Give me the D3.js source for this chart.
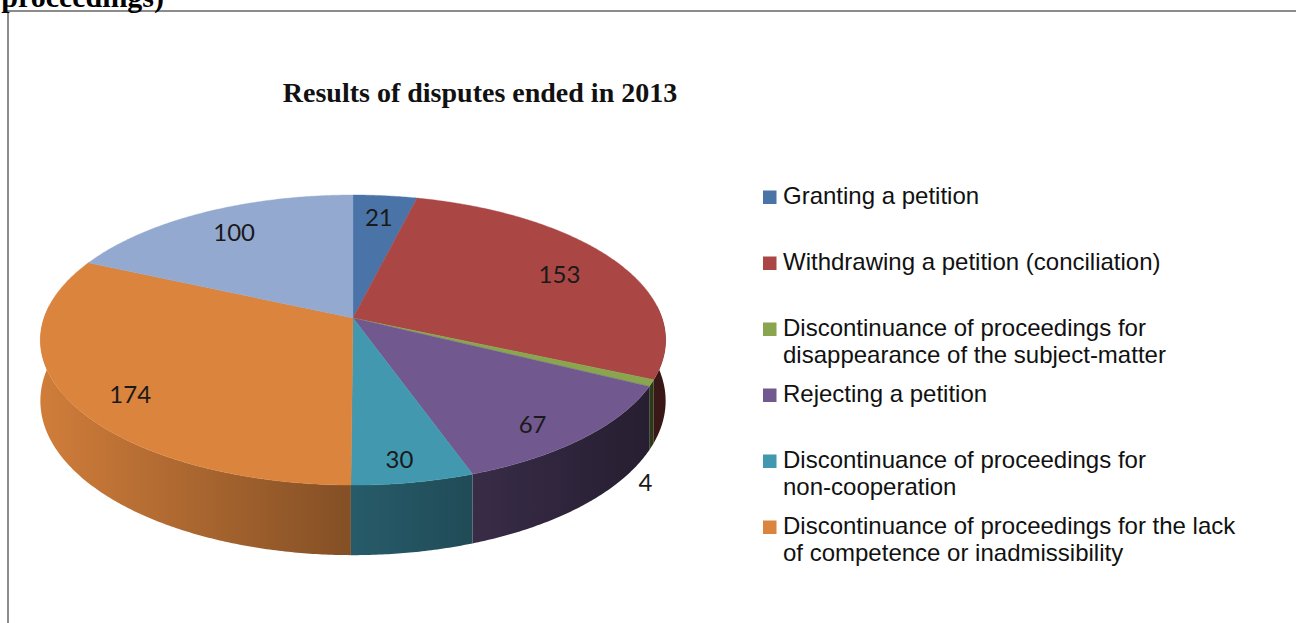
<!DOCTYPE html>
<html>
<head>
<meta charset="utf-8">
<script src="https://cdn.jsdelivr.net/npm/d3@7"></script>
<style>
  html, body { margin: 0; padding: 0; background: #fff; }
  svg { display: block; }
</style>
</head>
<body>
<svg id="chart" width="1296" height="623"></svg>
<script>
// ---- data ----
const categories = [
  "Granting a petition",
  "Withdrawing a petition (conciliation)",
  "Discontinuance of proceedings for disappearance of the subject-matter",
  "Rejecting a petition",
  "Discontinuance of proceedings for non-cooperation",
  "Discontinuance of proceedings for the lack of competence or inadmissibility",
  "Other"
];
const values = [21, 153, 4, 67, 30, 174, 100];
const colors = ["#4a73a8", "#aa4643", "#89a54e", "#71588f", "#4198af", "#db843d", "#93a9cf"];
const legendLines = [
  ["Granting a petition"],
  ["Withdrawing a petition (conciliation)"],
  ["Discontinuance of proceedings for", "disappearance of the subject-matter"],
  ["Rejecting a petition"],
  ["Discontinuance of proceedings for", "non-cooperation"],
  ["Discontinuance of proceedings for the lack", "of competence or inadmissibility"]
];
const chartTitle = "Results of disputes ended in 2013";
const headingFragment = "proceedings)";

// ---- layout ----
const svg = d3.select("#chart");
const defs = svg.append("defs");
const cx = 353, cy = 318;      // pie centre on screen
const S = 309, T = 141.7;      // horizontal / vertical radius scale
const P = 0.152;               // perspective strength
const H = 59.4;                // thickness

function proj(a, r, z) {
  const u = r * Math.sin(a), v = -r * Math.cos(a);
  const d = 1 - P * v;
  return [cx + S * u / d, cy + (T * v + z * H) / d];
}

// frame + clipped heading
svg.append("rect").attr("x", 8).attr("y", 11).attr("width", 1400).attr("height", 800)
  .attr("fill", "none").attr("stroke", "#8c8c8c").attr("stroke-width", 2);
svg.append("text").attr("x", 164).attr("y", 7).attr("text-anchor", "end")
  .attr("font-family", "'Liberation Serif','Times New Roman',serif").attr("font-weight", "bold")
  .attr("font-size", 30).attr("fill", "#000").text(headingFragment);

svg.append("text").attr("x", 480).attr("y", 102).attr("text-anchor", "middle")
  .attr("font-family", "'Liberation Serif','Times New Roman',serif").attr("font-weight", "bold")
  .attr("font-size", 28).attr("fill", "#111").text(chartTitle);

const pie = d3.pie().sort(null).startAngle(0).endAngle(2 * Math.PI);
const arcs = pie(values);
const total = d3.sum(values);

// sides: one path per slice, horizontal lighting gradient
const visLo = 85 * Math.PI / 180, visHi = 275 * Math.PI / 180;
const xL = cx - S * 1.012, xR = cx + S * 1.012;
const sides = [];
arcs.forEach((d, i) => {
  const a0 = Math.max(d.startAngle, visLo), a1 = Math.min(d.endAngle, visHi);
  if (a1 <= a0) return;
  const c = d3.rgb(colors[i]);
  const shade = f => d3.rgb(c.r * f, c.g * f, c.b * f).formatHex();
  const gid = "side" + i;
  const g = defs.append("linearGradient").attr("id", gid)
    .attr("gradientUnits", "userSpaceOnUse")
    .attr("x1", xL).attr("y1", 0).attr("x2", xR).attr("y2", 0);
  g.append("stop").attr("offset", 0).attr("stop-color", shade(0.95));
  g.append("stop").attr("offset", 0.5).attr("stop-color", shade(0.6));
  g.append("stop").attr("offset", 1).attr("stop-color", shade(0.33));
  const n = Math.max(2, Math.ceil((a1 - a0) / (Math.PI / 360)));
  const top = [], bot = [];
  for (let k = 0; k <= n; k++) {
    const a = a0 + (a1 - a0) * k / n;
    top.push(proj(a, 1, 0));
    bot.push(proj(a, 1, 1));
  }
  const pts = top.concat(bot.reverse());
  sides.push({ v: -Math.cos((a0 + a1) / 2), d: "M" + pts.map(p => p.join(",")).join("L") + "Z", gid });
});
sides.sort((a, b) => a.v - b.v);
const gSide = svg.append("g");
sides.forEach(s => {
  gSide.append("path").attr("d", s.d).attr("fill", `url(#${s.gid})`);
});

// top faces
const gTop = svg.append("g");
arcs.forEach((d, i) => {
  const n = Math.max(2, Math.ceil((d.endAngle - d.startAngle) / (Math.PI / 360)));
  const pts = [[cx, cy]];
  for (let k = 0; k <= n; k++) {
    pts.push(proj(d.startAngle + (d.endAngle - d.startAngle) * k / n, 1, 0));
  }
  gTop.append("path").attr("d", "M" + pts.map(p => p.join(",")).join("L") + "Z")
    .attr("fill", colors[i]).attr("stroke", colors[i]).attr("stroke-width", 0.4);
});

// value labels
const gLab = svg.append("g").attr("font-family", "Lato, 'Open Sans', sans-serif")
  .attr("font-size", 24).attr("fill", "#1a1a1a").attr("text-anchor", "middle");
arcs.forEach((d, i) => {
  const mid = (d.startAngle + d.endAngle) / 2;
  let x, y;
  if (d.value / total < 0.02) {
    const p = proj(mid, 1, 1);
    x = p[0] - 6; y = p[1] + 36;
  } else {
    const p = proj(mid, 0.8, 0);
    x = p[0] - 4 * Math.sin(mid) * 0.8 * (-Math.cos(mid) < 0 ? 1.5 : 0);
    y = p[1] + 7 + 9 * (-Math.cos(mid) * 0.8);
  }
  gLab.append("text").attr("x", x).attr("y", y + 8.7).text(d.value);
});

// legend
const gLeg = svg.append("g").attr("font-family", "'Liberation Sans', Arial, sans-serif")
  .attr("font-size", 24).attr("fill", "#111");
legendLines.forEach((lines, i) => {
  const base = 204 + i * 66;
  gLeg.append("rect").attr("x", 763).attr("y", base - 13.5).attr("width", 13.5).attr("height", 13.5)
    .attr("fill", colors[i]);
  lines.forEach((ln, j) => {
    gLeg.append("text").attr("x", 783).attr("y", base + j * 27).text(ln);
  });
});
</script>
</body>
</html>
